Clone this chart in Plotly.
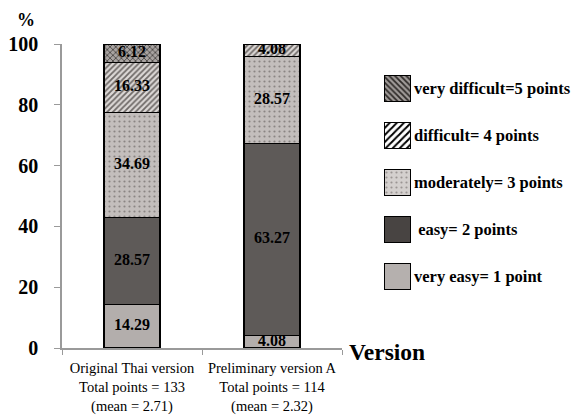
import plotly.graph_objects as go

# Versions compared and their x-axis captions
versions = ["Original Thai version", "Preliminary version A"]
version_labels = [
    "Original Thai version<br>Total points = 133<br>(mean = 2.71)",
    "Preliminary version A<br>Total points = 114<br>(mean = 2.32)",
]

# Difficulty ratings (bottom to top of each stack)
levels = ["very easy", "easy", "moderately", "difficult", "very difficult"]
level_names = [
    "very easy= 1 point",
    " easy= 2 points",
    "moderately= 3 points",
    "difficult= 4 points",
    "very difficult=5 points",
]

# Percentage of respondents per rating, per version
very_easy = [14.29, 4.08]
easy = [28.57, 63.27]
moderately = [34.69, 28.57]
difficult = [16.33, 4.08]
very_difficult = [6.12, 0]
series = [very_easy, easy, moderately, difficult, very_difficult]

y_ticks = [0, 20, 40, 60, 80, 100]

SERIF = "Liberation Serif"

# fill styles for the stacked bars
bar_styles = [
    dict(color="#b3aeac", pattern=dict(shape="")),
    dict(color="#5e5a58", pattern=dict(shape="")),
    dict(color="#c3bebc", pattern=dict(shape=".", fgcolor="#8a8583", bgcolor="#c3bebc",
                                       size=5, solidity=0.15, fillmode="replace")),
    dict(color="#d6d2d0", pattern=dict(shape="/", fgcolor="#6e6967", bgcolor="#dcd8d6",
                                       size=4, solidity=0.45, fillmode="replace")),
    dict(color="#9a9593", pattern=dict(shape="x", fgcolor="#3e3a38", bgcolor="#a8a3a1",
                                       size=4, solidity=0.35, fillmode="replace")),
]
# fill styles for the legend swatches
key_styles = [
    dict(color="#b5b0ae", pattern=dict(shape="")),
    dict(color="#484442", pattern=dict(shape="")),
    dict(color="#d4d0ce", pattern=dict(shape=".", fgcolor="#9a9593", bgcolor="#d4d0ce",
                                       size=5, solidity=0.15, fillmode="replace")),
    dict(color="#ffffff", pattern=dict(shape="/", fgcolor="#000000", bgcolor="#ffffff",
                                       size=5, solidity=0.4, fillmode="replace")),
    dict(color="#7a7573", pattern=dict(shape="\\", fgcolor="#2e2a28", bgcolor="#a09b99",
                                       size=4, solidity=0.45, fillmode="replace")),
]

fig = go.Figure()

for name, vals, style in zip(levels, series, bar_styles):
    fig.add_trace(go.Bar(
        x=version_labels,
        y=vals,
        name=name,
        width=0.4,
        marker=dict(line=dict(color="#000000", width=1.5), **style),
        showlegend=False,
        hoverinfo="skip",
        xaxis="x", yaxis="y",
    ))

# value labels at the middle of every stacked segment
for j, vlabel in enumerate(version_labels):
    base = 0.0
    for vals in series:
        v = vals[j]
        if v > 0:
            fig.add_trace(go.Scatter(
                x=[vlabel], y=[base + v / 2], mode="text",
                text=[f"{v:.2f}"], textposition="middle center",
                textfont=dict(family=SERIF, size=16, color="#000000", weight="bold"),
                showlegend=False, hoverinfo="skip",
                xaxis="x", yaxis="y",
            ))
        base += v

# legend key drawn as swatches on a small side axis
for i, style in enumerate(key_styles):
    fig.add_trace(go.Bar(
        x=[0], y=[0.56], base=[i - 0.28], width=1,
        marker=dict(line=dict(color="#000000", width=1.5), **style),
        showlegend=False, hoverinfo="skip",
        xaxis="x2", yaxis="y2",
    ))
    fig.add_annotation(
        x=0.689, xref="paper", y=i, yref="y2",
        text=level_names[i], showarrow=False, xanchor="left", yanchor="middle",
        font=dict(family=SERIF, size=16.5, color="#000000", weight="bold"),
    )

fig.add_annotation(x=-0.07, xref="paper", y=1.08, yref="paper", text="%",
                   showarrow=False, xanchor="center", yanchor="middle",
                   font=dict(family=SERIF, size=18, color="#000000", weight="bold"))
fig.add_annotation(x=0.561, xref="paper", y=-0.012, yref="paper", text="Version",
                   showarrow=False, xanchor="left", yanchor="middle",
                   font=dict(family=SERIF, size=23.5, color="#000000", weight="bold"))

fig.update_layout(
    width=572, height=416,
    margin=dict(l=62, r=2, t=44, b=68),
    paper_bgcolor="#ffffff", plot_bgcolor="#ffffff",
    barmode="stack",
    xaxis=dict(
        domain=[0, 280 / 508],
        showline=True, linecolor="#9a9a9a", linewidth=1.5,
        ticks="outside", tickson="boundaries", ticklen=5, tickcolor="#9a9a9a",
        ticklabelstandoff=6, tickangle=0, automargin=False,
        tickfont=dict(family=SERIF, size=14.5, color="#000000"),
        showgrid=False, zeroline=False,
    ),
    yaxis=dict(
        range=[0, 100], tickvals=y_ticks,
        showline=True, linecolor="#9a9a9a", linewidth=1.5,
        ticks="outside", ticklen=6, tickcolor="#9a9a9a",
        ticklabelstandoff=12, automargin=False,
        tickfont=dict(family=SERIF, size=20, color="#000000", weight="bold"),
        showgrid=False, zeroline=False,
    ),
    xaxis2=dict(domain=[322 / 508, 349 / 508], range=[-0.5, 0.5], visible=False,
                anchor="y2"),
    yaxis2=dict(domain=[48 / 304, 283 / 304], range=[-0.5, 4.5], visible=False,
                anchor="x2"),
)

fig.write_html("out.html")
